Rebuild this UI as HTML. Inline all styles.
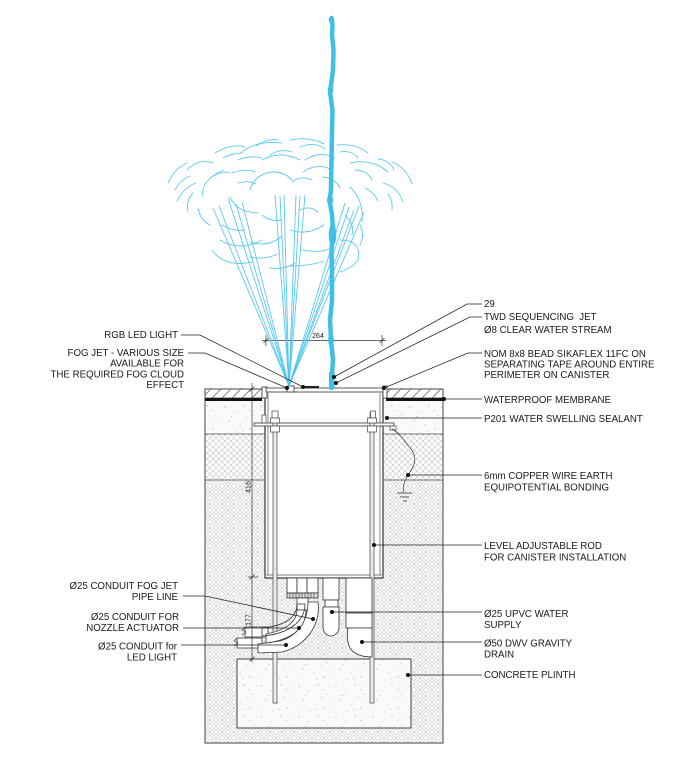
<!DOCTYPE html>
<html><head><meta charset="utf-8">
<style>
html,body{margin:0;padding:0;background:#fff;}
svg{display:block;}
text{font-family:"Liberation Sans",Arial,sans-serif;fill:#1a1a1a;}
</style></head>
<body>
<svg width="682" height="773" viewBox="0 0 682 773" xmlns="http://www.w3.org/2000/svg">
<defs>
<pattern id="hb" width="12" height="12" patternUnits="userSpaceOnUse">
<path d="M0,3 L3,0 M0,6 L6,0 M3,6 L6,3 M6,0 L12,6 M9,0 L12,3 M6,3 L9,6 M0,6 L6,12 M3,6 L6,9 M0,9 L3,12 M6,12 L12,6 M6,9 L9,6 M9,12 L12,9" stroke="#cfcfcf" stroke-width="0.8" fill="none"/>
</pattern>
<pattern id="xh" width="6" height="6" patternUnits="userSpaceOnUse">
<path d="M0,0 L6,6 M6,0 L0,6" stroke="#c2c2c2" stroke-width="0.6" fill="none"/>
</pattern>
<pattern id="cc" width="37" height="31" patternUnits="userSpaceOnUse">
<rect width="37" height="31" fill="#fafafa"/>
<g fill="#a8a8a8">
<circle cx="3" cy="4" r="0.6"/><circle cx="12" cy="9" r="0.5"/><circle cx="22" cy="3" r="0.6"/>
<circle cx="31" cy="12" r="0.5"/><circle cx="7" cy="18" r="0.6"/><circle cx="18" cy="22" r="0.5"/>
<circle cx="28" cy="26" r="0.6"/><circle cx="34" cy="4" r="0.4"/><circle cx="14" cy="29" r="0.5"/>
<circle cx="25" cy="15" r="0.5"/><circle cx="2" cy="26" r="0.4"/><circle cx="33" cy="20" r="0.4"/>
<path d="M9,13 l1.5,0 l-0.7,1.3z M27,7 l1.4,0 l-0.7,1.2z M20,27 l1.3,0 l-0.6,1.2z"/>
</g>
</pattern>
<pattern id="sh" width="10" height="10" patternUnits="userSpaceOnUse">
<path d="M0,10 L10,0" stroke="#555" stroke-width="0.7"/>
</pattern>
</defs>

<!-- ground body -->
<rect x="205" y="480" width="238" height="263" fill="url(#hb)"/>
<rect x="205" y="434" width="60" height="46" fill="url(#xh)"/>
<rect x="383" y="434" width="60" height="46" fill="url(#xh)"/>
<rect x="205" y="401" width="60" height="33" fill="url(#cc)"/>
<rect x="383" y="401" width="60" height="33" fill="url(#cc)"/>
<g stroke="#444" stroke-width="0.8">
<line x1="205" y1="434" x2="265" y2="434"/><line x1="383" y1="434" x2="443" y2="434"/>
<line x1="205" y1="480" x2="265" y2="480"/><line x1="383" y1="480" x2="443" y2="480"/>
</g>
<!-- slab -->
<rect x="205" y="389" width="57" height="9" fill="url(#sh)" stroke="#444" stroke-width="0.8"/>
<rect x="386" y="389" width="57" height="9" fill="url(#sh)" stroke="#444" stroke-width="0.8"/>
<rect x="205" y="398" width="57" height="3" fill="#111"/>
<rect x="386" y="398" width="57" height="3" fill="#111"/>
<rect x="205" y="389" width="238" height="354" fill="none" stroke="#444" stroke-width="1"/>

<!-- plinth -->
<rect x="237" y="659" width="174" height="69" fill="url(#cc)" stroke="#444" stroke-width="1"/>

<!-- canister -->
<rect x="265" y="389" width="118" height="189" fill="#fff" stroke="#333" stroke-width="1.2"/>
<g stroke="#555" stroke-width="0.7">
<line x1="268" y1="393" x2="268" y2="575"/><line x1="380" y1="393" x2="380" y2="575"/>
<line x1="266" y1="575" x2="382" y2="575"/>
</g>
<!-- lid -->
<g stroke="#333" stroke-width="0.8" fill="#fff">
<rect x="262" y="387" width="5" height="11"/>
<rect x="266" y="388" width="117" height="4"/>
<rect x="383" y="386" width="4" height="12"/>
<rect x="287" y="386" width="7" height="6"/>
</g>
<rect x="303" y="386" width="16" height="2.2" fill="#222"/>
<!-- flange -->
<rect x="254" y="423" width="140" height="3" fill="#fff" stroke="#333" stroke-width="0.8"/>
<rect x="262" y="415" width="4" height="8" fill="#fff" stroke="#444" stroke-width="0.7"/>
<rect x="390" y="426" width="6" height="4" fill="#fff" stroke="#444" stroke-width="0.7"/>
<!-- rods -->
<g stroke="#444" stroke-width="0.7" fill="#ececec">
<rect x="273" y="413" width="4" height="290"/>
<rect x="370" y="413" width="4" height="290"/>
<rect x="272" y="411" width="6" height="7" fill="#fff"/>
<rect x="370.5" y="411" width="5" height="7" fill="#fff"/>
<rect x="270.5" y="418" width="9" height="5" fill="#fff"/>
<rect x="270.5" y="426" width="9" height="6" fill="#fff"/>
<rect x="367.5" y="418" width="9" height="5" fill="#fff"/>
<rect x="367.5" y="426" width="9" height="6" fill="#fff"/>
</g>

<!-- pipes below canister -->
<g stroke="#333" stroke-width="0.8" fill="#fff">
<rect x="287" y="578" width="10" height="15"/>
<rect x="297" y="578" width="10" height="15"/>
<rect x="307" y="578" width="11" height="15"/>
<rect x="287" y="593" width="31" height="5" fill="#ddd"/>
<rect x="297" y="598" width="11" height="12"/>
<path d="M245,627 L268,627 L268,637 L245,637 Z"/>
<path d="M237,638 L262,638 L262,648 L237,648 Z"/>
<path d="M318,602 C321,625 306,646 282,652 L258,653 L258,644 L280,641 C298,636 308,620 308,602 Z"/>
<path d="M306,610 C306,628 292,640 266,643 L266,634 C288,630 297,620 297,610 Z"/>
<path d="M297,604 C297,618 284,626 262,628 L262,636 C288,634 305,622 305,604 Z" fill="none"/>
<rect x="323" y="578" width="16" height="22"/>
<rect x="325" y="600" width="13" height="7"/>
<path d="M323,607 L323,627 A8,9 0 0 0 339,627 L339,607 Z"/>
<rect x="346" y="578" width="26" height="35"/>
<rect x="346" y="613" width="26" height="15"/>
<path d="M372,628 L348,628 Q346,640 350,648 Q356,657 372,657 Z"/>
</g>
<g stroke="#333" stroke-width="0.6">
<path d="M290,593 v5 M293,593 v5 M296,593 v5 M299,593 v5 M302,593 v5 M305,593 v5 M308,593 v5 M311,593 v5 M314,593 v5"/>
<path d="M245,627 l-3,3 l4,2 l-4,3 M237,638 l-3,3 l4,2 l-4,3" fill="none"/>
</g>

<!-- earth wire -->
<path d="M392,429 C400,433 404,441 411,449 C419,459 413,468 408,475 C404,482 402,488 404,492" fill="none" stroke="#333" stroke-width="0.7"/>
<g stroke="#333" stroke-width="0.8">
<line x1="397" y1="493" x2="412" y2="493"/><line x1="400" y1="497" x2="409" y2="497"/><line x1="403" y1="501" x2="407" y2="501"/>
</g>

<!-- dimensions -->
<g stroke="#333" stroke-width="0.7" fill="none">
<line x1="252" y1="383" x2="252" y2="662"/>
<line x1="248" y1="389" x2="256" y2="389"/><line x1="249.5" y1="391.5" x2="254.5" y2="386.5"/>
<line x1="248" y1="577" x2="258" y2="577"/><line x1="249.5" y1="579.5" x2="254.5" y2="574.5"/>
<line x1="248" y1="659" x2="256" y2="659"/><line x1="249.5" y1="661.5" x2="254.5" y2="656.5"/>
<line x1="262" y1="340.5" x2="386" y2="340.5"/>
<line x1="266" y1="335" x2="266" y2="346"/><line x1="263.5" y1="343" x2="268.5" y2="338"/>
<line x1="382" y1="335" x2="382" y2="346"/><line x1="379.5" y1="343" x2="384.5" y2="338"/>
</g>
<text x="318" y="338" font-size="7" text-anchor="middle">264</text>
<text transform="translate(250.5,487) rotate(-90)" font-size="7" text-anchor="middle">416</text>
<text transform="translate(250.5,620) rotate(-90)" font-size="7" text-anchor="middle">177</text>

<!-- fog spray lines -->
<g stroke="#4fc6ef" stroke-width="0.85" fill="none">
<line x1="289" y1="386" x2="213" y2="208"/>
<line x1="289" y1="386" x2="219" y2="206"/>
<line x1="289" y1="386" x2="228" y2="198"/>
<line x1="289" y1="386" x2="236" y2="204"/>
<line x1="289" y1="386" x2="242" y2="202"/>
<line x1="289" y1="386" x2="275" y2="195"/>
<line x1="289" y1="386" x2="280" y2="196"/>
<line x1="289" y1="386" x2="284" y2="195"/>
<line x1="289" y1="386" x2="296" y2="195"/>
<line x1="289" y1="386" x2="300" y2="196"/>
<line x1="289" y1="386" x2="305" y2="195"/>
<line x1="289" y1="386" x2="345" y2="203"/>
<line x1="289" y1="386" x2="349" y2="207"/>
<line x1="289" y1="386" x2="354" y2="210"/>
<line x1="289" y1="386" x2="359" y2="206"/>
<line x1="289" y1="386" x2="364" y2="212"/>
</g>
<!-- fog cloud -->
<g stroke="#5ccaf0" stroke-width="0.9" fill="none" stroke-linecap="round">
<path d="M215,153 Q232,143 245,147"/>
<path d="M223,158 Q232,153 242,153"/>
<path d="M241,153 Q255,140 282,143"/>
<path d="M256,146 Q268,138 278,140"/>
<path d="M290,140 Q310,136 324,144"/>
<path d="M300,147 Q315,141 325,149"/>
<path d="M337,145 Q355,143 368,153"/>
<path d="M340,152 Q352,150 358,158"/>
<path d="M350,163 Q372,158 388,172"/>
<path d="M378,159 Q390,160 394,170"/>
<path d="M392,162 Q406,167 412,184"/>
<path d="M383,183 Q398,187 403,202"/>
<path d="M388,194 Q393,200 392,210"/>
<path d="M365,188 Q374,192 378,201"/>
<path d="M355,170 Q367,170 372,180"/>
<path d="M350,187 Q364,200 362,222"/>
<path d="M168,183 Q175,168 187,163"/>
<path d="M177,201 Q184,187 196,183"/>
<path d="M188,211 Q186,200 193,193"/>
<path d="M187,170 Q198,158 213,163"/>
<path d="M203,197 Q200,180 224,170"/>
<path d="M210,178 Q222,170 230,173"/>
<path d="M175,190 Q180,180 190,176"/>
<path d="M238,160 Q250,155 262,158"/>
<path d="M232,173 Q245,168 255,172"/>
<path d="M238,183 Q248,180 256,184"/>
<path d="M250,190 Q255,174 272,172 Q285,172 292,180"/>
<path d="M303,172 Q318,162 332,170"/>
<path d="M323,177 Q335,178 340,188"/>
<path d="M292,182 Q300,175 312,180"/>
<path d="M262,160 Q280,150 300,160"/>
<path d="M305,160 Q320,150 335,158"/>
<path d="M270,155 Q280,148 292,152"/>
<path d="M220,240 Q240,252 262,240"/>
<path d="M250,242 Q268,248 282,236"/>
<path d="M212,250 Q225,268 252,262"/>
<path d="M250,257 Q265,260 278,254"/>
<path d="M230,197 Q236,212 258,213"/>
<path d="M290,230 Q308,236 324,225"/>
<path d="M303,250 Q320,254 334,247"/>
<path d="M290,266 Q310,266 324,261"/>
<path d="M340,240 Q362,240 358,260 Q352,268 340,272"/>
<path d="M222,225 Q235,232 245,230"/>
<path d="M345,215 Q355,225 352,235"/>
<path d="M360,225 Q365,235 360,245"/>
<path d="M270,268 Q285,270 295,263"/>
<path d="M198,208 Q200,220 210,225"/>
<path d="M300,210 Q310,205 318,212"/>
<path d="M262,215 Q270,222 282,220"/>
</g>

<!-- water stream -->
<g fill="none" stroke="#3dbfe8" stroke-linejoin="round" stroke-linecap="round">
<polyline stroke-width="4.5" points="331.5,18 332.5,25 332,35 333.5,50 333,70 331,85 330,92 332.5,110 332,130 331.5,160 331,190 329.5,200 332,215 333,230 331.5,250 332,275 332,300 330,320 331,340 333,360 332,375 331.5,388"/>
</g>
<g fill="#3dbfe8">
<ellipse cx="331.5" cy="20" rx="2.8" ry="3"/>
<ellipse cx="330.5" cy="90" rx="2.8" ry="4"/>
<ellipse cx="330" cy="200" rx="3" ry="5"/>
<ellipse cx="332.5" cy="235" rx="3.8" ry="11"/>
<ellipse cx="331" cy="340" rx="2.8" ry="7"/>
<rect x="329" y="372" width="5.5" height="16"/>
</g>

<!-- leaders -->
<g stroke="#222" stroke-width="0.75" fill="none">
<polyline points="181,335 200,335 303,387"/>
<polyline points="188,353 205,353 287,388"/>
<polyline points="482,304 467,304 334,377"/>
<polyline points="482,317 470,317 336,383"/>
<polyline points="482,353 468,353 384,388"/>
<line x1="444" y1="399" x2="482" y2="399"/>
<line x1="387" y1="418" x2="482" y2="418"/>
<line x1="408" y1="475" x2="482" y2="475"/>
<line x1="374" y1="545" x2="482" y2="545"/>
<line x1="332" y1="612" x2="482" y2="612"/>
<line x1="362" y1="642" x2="482" y2="642"/>
<line x1="408" y1="675" x2="482" y2="675"/>
<polyline points="183,596 205,596 313,619"/>
<line x1="183" y1="628" x2="299" y2="628"/>
<line x1="181" y1="645" x2="286" y2="645"/>
</g>
<g fill="#111">
<circle cx="303" cy="387" r="2"/><circle cx="287" cy="388" r="2"/>
<circle cx="334" cy="377" r="2"/><circle cx="336" cy="383" r="2"/>
<circle cx="384" cy="388" r="2"/><circle cx="444" cy="399" r="2"/>
<circle cx="387" cy="418" r="2"/><circle cx="408" cy="475" r="2"/>
<circle cx="374" cy="545" r="2"/><circle cx="332" cy="612" r="2"/>
<circle cx="362" cy="642" r="2"/><circle cx="408" cy="675" r="2"/>
<circle cx="313" cy="619" r="2"/><circle cx="299" cy="628" r="2"/>
<circle cx="286" cy="645" r="2"/>
</g>

<!-- labels left -->
<g font-size="9.7" text-anchor="end">
<text x="178" y="338">RGB LED LIGHT</text>
<text x="184" y="356">FOG JET - VARIOUS SIZE</text>
<text x="184" y="366.7">AVAILABLE FOR</text>
<text x="184" y="377.3">THE REQUIRED FOG CLOUD</text>
<text x="184" y="388">EFFECT</text>
<text x="178" y="589">Ø25 CONDUIT FOG JET</text>
<text x="178" y="600">PIPE LINE</text>
<text x="179" y="620">Ø25 CONDUIT FOR</text>
<text x="179" y="631">NOZZLE ACTUATOR</text>
<text x="177" y="649.3">Ø25 CONDUIT for</text>
<text x="177" y="660.5">LED LIGHT</text>
</g>
<!-- labels right -->
<g font-size="9.7">
<text x="484" y="307">29</text>
<text x="484" y="320" xml:space="preserve">TWD SEQUENCING  JET</text>
<text x="484" y="333">Ø8 CLEAR WATER STREAM</text>
<text x="484" y="357">NOM 8x8 BEAD SIKAFLEX 11FC ON</text>
<text x="484" y="367.5">SEPARATING TAPE AROUND ENTIRE</text>
<text x="484" y="378">PERIMETER ON CANISTER</text>
<text x="484" y="403">WATERPROOF MEMBRANE</text>
<text x="484" y="422">P201 WATER SWELLING SEALANT</text>
<text x="484" y="479">6mm COPPER WIRE EARTH</text>
<text x="484" y="490.5">EQUIPOTENTIAL BONDING</text>
<text x="484" y="549">LEVEL ADJUSTABLE ROD</text>
<text x="484" y="560.5">FOR CANISTER INSTALLATION</text>
<text x="484" y="617">Ø25 UPVC WATER</text>
<text x="484" y="628">SUPPLY</text>
<text x="484" y="646.5">Ø50 DWV GRAVITY</text>
<text x="484" y="657.5">DRAIN</text>
<text x="484" y="678">CONCRETE PLINTH</text>
</g>
</svg>
</body></html>
